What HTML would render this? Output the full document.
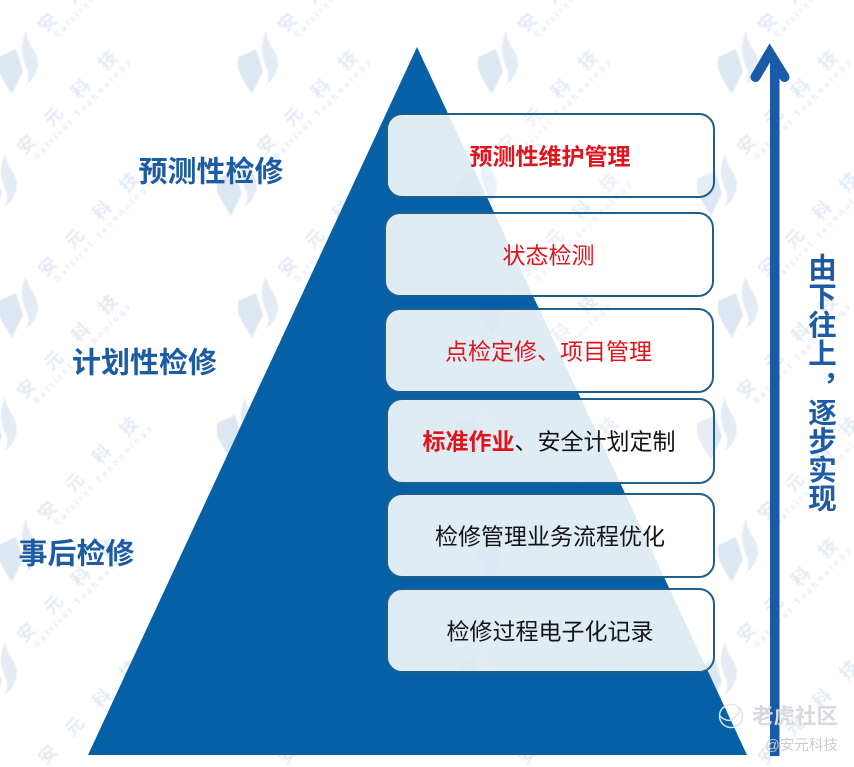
<!DOCTYPE html>
<html lang="zh-CN">
<head>
<meta charset="utf-8">
<style>
html,body{margin:0;padding:0;background:#fff;overflow:hidden}
body{width:854px;height:767px;position:relative;font-family:"Liberation Sans","Noto Sans CJK SC",sans-serif}
svg{position:absolute;left:0;top:0;overflow:hidden}
.t{position:absolute;white-space:nowrap;line-height:1;transform:translate(-50%,-50%)}
.h{font-size:29px;font-weight:700;color:#1d5ca3}
.b{font-size:23px;color:#141414}
.r{color:#e0141c}
.s{font-weight:700;color:#e0141c}
.v{position:absolute;width:30px;writing-mode:vertical-rl;font-size:28.500px;font-weight:700;line-height:30px;color:#1d5ca3;white-space:nowrap}
</style>
</head>
<body>
<svg width="854" height="767" viewBox="0 0 854 767" xmlns="http://www.w3.org/2000/svg">
<defs>
<filter id="soft" x="-5%" y="-5%" width="110%" height="110%"><feGaussianBlur stdDeviation="0.5"/></filter>
<g id="wt">
<g transform="translate(29,-41) rotate(-46)" fill="#e3ebf4" font-family="'Liberation Sans','Noto Sans CJK SC',sans-serif">
<text x="-9" y="7" font-size="18" font-weight="700" letter-spacing="21">安元科技</text>
</g>
</g>
<g id="w">
<path d="M-20 -6 L-2 -14 L5 8 L-6 31 L-13 20 L-20 6 Z" fill="#dde7f2"/>
<path d="M8 -32 C1 -15 4 -5 9 6 C11 10 11 15 8 22 C17 15 22 5 19 -6 C17 -14 9 -20 8 -32 Z" fill="#e3ecf5"/>
<use href="#wt"/>
<g transform="translate(29,-41) rotate(-46)" fill="#e3ebf4" font-family="'Liberation Sans','Noto Sans CJK SC',sans-serif">
<text x="-4" y="19" font-size="8.500" font-weight="700" textLength="135" lengthAdjust="spacing">Saftirst Technology</text>
</g>
</g>
<g id="rows">
<use href="#w" x="18" y="63"/><use href="#w" x="258" y="63"/><use href="#w" x="498" y="63"/><use href="#w" x="738" y="63"/>
<use href="#w" x="-3" y="185"/><use href="#w" x="237" y="185"/><use href="#w" x="477" y="185"/><use href="#w" x="717" y="185"/>
<use href="#w" x="18" y="307"/><use href="#w" x="258" y="307"/><use href="#w" x="498" y="307"/><use href="#w" x="738" y="307"/>
<use href="#w" x="-3" y="429"/><use href="#w" x="237" y="429"/><use href="#w" x="477" y="429"/><use href="#w" x="717" y="429"/>
<use href="#w" x="18" y="551"/><use href="#w" x="258" y="551"/><use href="#w" x="498" y="551"/><use href="#w" x="738" y="551"/>
<use href="#w" x="-3" y="673"/><use href="#w" x="237" y="673"/><use href="#w" x="477" y="673"/><use href="#w" x="717" y="673"/>
<use href="#wt" x="18" y="795"/><use href="#wt" x="258" y="795"/><use href="#wt" x="498" y="795"/><use href="#wt" x="738" y="795"/>
</g>
<clipPath id="bx">
<rect x="388" y="115" width="325" height="81" rx="14"/>
<rect x="386" y="214" width="326" height="81" rx="14"/>
<rect x="386" y="310" width="326" height="81" rx="14"/>
<rect x="388" y="400" width="325" height="82" rx="14"/>
<rect x="388" y="495" width="325" height="81" rx="14"/>
<rect x="388" y="590" width="325" height="81" rx="14"/>
</clipPath>
</defs>

<g filter="url(#soft)"><use href="#rows"/></g>

<polygon points="417,47 747,755 88,755" fill="#0560a6"/>

<g fill="#fff" fill-opacity="0.88">
<rect x="387" y="114" width="327" height="83" rx="15"/>
<rect x="385" y="213" width="328" height="83" rx="15"/>
<rect x="385" y="309" width="328" height="83" rx="15"/>
<rect x="387" y="399" width="327" height="84" rx="15"/>
<rect x="387" y="494" width="327" height="83" rx="15"/>
<rect x="387" y="589" width="327" height="83" rx="15"/>
</g>
<g clip-path="url(#bx)"><g opacity="0.7" filter="url(#soft)"><use href="#rows"/></g></g>
<g fill="none" stroke="#1f5f8c" stroke-width="2">
<rect x="387" y="114" width="327" height="83" rx="15"/>
<rect x="385" y="213" width="328" height="83" rx="15"/>
<rect x="385" y="309" width="328" height="83" rx="15"/>
<rect x="387" y="399" width="327" height="84" rx="15"/>
<rect x="387" y="494" width="327" height="83" rx="15"/>
<rect x="387" y="589" width="327" height="83" rx="15"/>
</g>

<rect x="770" y="60" width="9.500" height="696" fill="#1a5aa6"/>
<path d="M755.500 77 L769.700 53 L784.500 77" fill="none" stroke="#1a5aa6" stroke-width="10" stroke-linecap="round" stroke-linejoin="miter"/>

<circle cx="731" cy="716" r="11.500" fill="none" stroke="#e0e3e8" stroke-width="1.500"/>
<path d="M720 716 C726 722 734 724 741 708" fill="none" stroke="#e0e3e8" stroke-width="1.500"/>
</svg>

<div class="t h" style="left:211px;top:173px">预测性检修</div>
<div class="t h" style="left:144.500px;top:364px">计划性检修</div>
<div class="t h" style="left:76.500px;top:555px">事后检修</div>

<div class="t b s" style="left:550px;top:157px">预测性维护管理</div>
<div class="t b r" style="left:548.500px;top:256px">状态检测</div>
<div class="t b r" style="left:548.500px;top:352px">点检定修、项目管理</div>
<div class="t b" style="left:549px;top:442px"><span class="s">标准作业</span>、安全计划定制</div>
<div class="t b" style="left:550px;top:537px">检修管理业务流程优化</div>
<div class="t b" style="left:550px;top:632px">检修过程电子化记录</div>

<div class="v" style="left:805px;top:253px">由下往上</div>
<div class="v" style="left:806px;top:372px">，</div>
<div class="v" style="left:805px;top:398px">逐步实现</div>

<div class="t" style="left:795px;top:717px;font-size:21.500px;font-weight:700;color:#d6d9dd">老虎社区</div>
<div class="t" style="left:801.500px;top:746px;font-size:14.500px;color:#c9ccd0">@安元科技</div>
</body>
</html>
